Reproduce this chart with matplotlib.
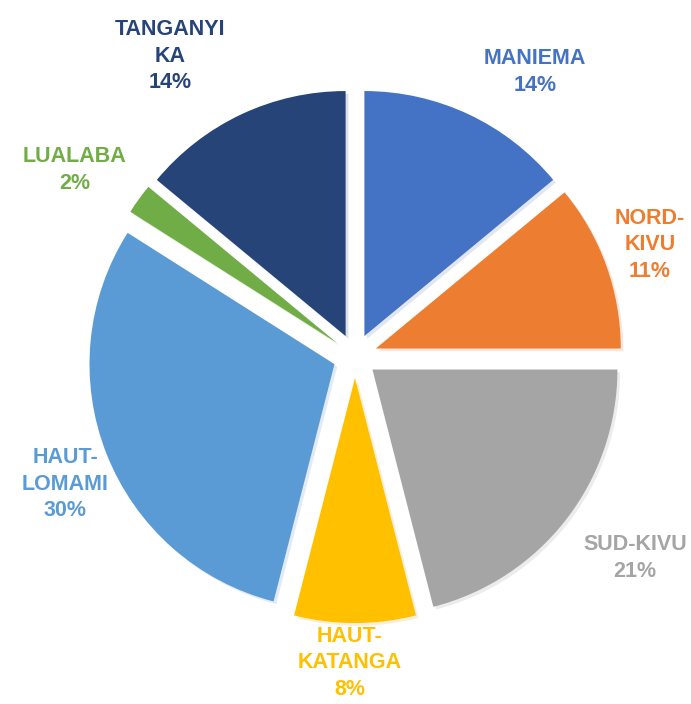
import matplotlib
matplotlib.use("Agg")
import matplotlib.pyplot as plt

categories = ["MANIEMA", "NORD-KIVU", "SUD-KIVU", "HAUT-KATANGA", "HAUT-LOMAMI", "LUALABA", "TANGANYIKA"]
label_text = ["MANIEMA", "NORD-\nKIVU", "SUD-KIVU", "HAUT-\nKATANGA", "HAUT-\nLOMAMI", "LUALABA", "TANGANYI\nKA"]
values = [14, 11, 21, 8, 30, 2, 14]
colors = ["#4472C4", "#ED7D31", "#A5A5A5", "#FFC000", "#5B9BD5", "#70AD47", "#264478"]
# label centre positions in figure pixels (x from left, y from top)
label_px = [(535, 72), (650, 245), (635, 558), (350, 663), (65, 484), (75, 170), (170, 56)]

W, H = 691, 704
fig = plt.figure(figsize=(W / 100, H / 100), dpi=100)
ax = fig.add_axes([0, 0, 1, 1])
cx, cy, R = 355, 356, 245
wedges, _ = ax.pie(values, colors=colors, startangle=90, counterclock=False,
                   explode=[0.09] * len(values), radius=1,
                   wedgeprops=dict(linewidth=0),
                   shadow=dict(ox=0.008, oy=-0.008, shade=0.2, alpha=0.15))
ax.set_xlim(-cx / R, (W - cx) / R)
ax.set_ylim(-(H - cy) / R, cy / R)
ax.set_aspect("auto")
ax.axis("off")

fam = ["Liberation Sans", "DejaVu Sans"]
for txt, v, col, (px, py) in zip(label_text, values, colors, label_px):
    fig.text(px / W, 1 - py / H, f"{txt}\n{v}%", color=col, ha="center", va="center",
             fontsize=15.5, fontweight="bold", family=fam, linespacing=1.35)

fig.savefig("out.png", dpi=100)
